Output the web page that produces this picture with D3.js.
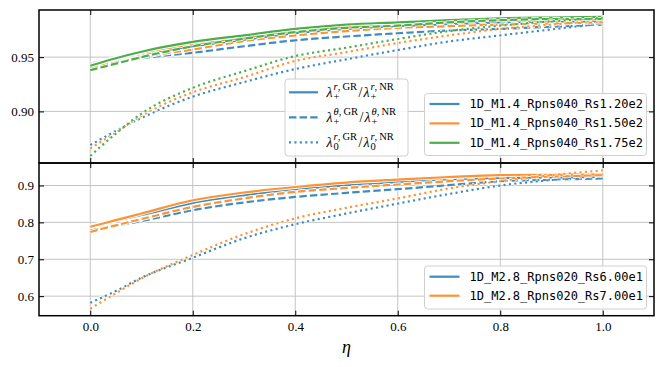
<!DOCTYPE html>
<html><head><meta charset="utf-8">
<script src="https://cdn.jsdelivr.net/npm/d3@7"></script>
<style>body{margin:0;background:#fff} svg{display:block}</style>
</head><body><svg id="c" width="664" height="367"></svg>
<script>
// ---------- data ----------
const eta = [0, 0.05, 0.1, 0.2, 0.3, 0.4, 0.5, 0.6, 0.7, 0.8, 0.9, 1.0];

const topNames = ["1D_M1.4_Rpns040_Rs1.20e2", "1D_M1.4_Rpns040_Rs1.50e2", "1D_M1.4_Rpns040_Rs1.75e2"];
const botNames = ["1D_M2.8_Rpns020_Rs6.00e1", "1D_M2.8_Rpns020_Rs7.00e1"];

// top panel: lambda_+^r ratio (solid)
const top120_rPlus  = [0.944, 0.949, 0.953, 0.960, 0.966, 0.972, 0.976, 0.9787, 0.9805, 0.982, 0.9828, 0.983];
const top150_rPlus  = [0.943, 0.949, 0.954, 0.962, 0.968, 0.9747, 0.978, 0.981, 0.983, 0.9846, 0.985, 0.9855];
const top175_rPlus  = [0.942, 0.949, 0.955, 0.964, 0.970, 0.976, 0.980, 0.982, 0.984, 0.9858, 0.9865, 0.987];
// lambda_+^theta ratio (dashed)
const top120_thPlus = [0.9415, 0.9455, 0.949, 0.954, 0.960, 0.9655, 0.969, 0.972, 0.9745, 0.976, 0.978, 0.980];
const top150_thPlus = [0.940, 0.945, 0.950, 0.957, 0.9648, 0.970, 0.974, 0.977, 0.9785, 0.980, 0.981, 0.982];
const top175_thPlus = [0.938, 0.944, 0.950, 0.960, 0.967, 0.973, 0.977, 0.979, 0.982, 0.984, 0.985, 0.985];
// lambda_0^r ratio (dotted)
const top120_r0     = [0.869, 0.882, 0.894, 0.9136, 0.927, 0.939, 0.948, 0.9565, 0.9644, 0.970, 0.9755, 0.981];
const top150_r0     = [0.866, 0.8806, 0.896, 0.9176, 0.9315, 0.9465, 0.9546, 0.963, 0.970, 0.976, 0.980, 0.984];
const top175_r0     = [0.859, 0.8796, 0.898, 0.9217, 0.937, 0.951, 0.9587, 0.9667, 0.974, 0.979, 0.983, 0.986];

// bottom panel
const bot60_rPlus   = [0.790, 0.805, 0.820, 0.853, 0.874, 0.890, 0.901, 0.910, 0.917, 0.9205, 0.922, 0.923];
const bot70_rPlus   = [0.788, 0.806, 0.824, 0.860, 0.881, 0.896, 0.908, 0.916, 0.923, 0.928, 0.929, 0.930];
const bot60_thPlus  = [0.778, 0.791, 0.8035, 0.833, 0.854, 0.869, 0.880, 0.890, 0.901, 0.9116, 0.916, 0.919];
const bot70_thPlus  = [0.774, 0.792, 0.809, 0.842, 0.865, 0.8827, 0.8935, 0.9027, 0.9116, 0.919, 0.924, 0.928];
const bot60_r0      = [0.582, 0.614, 0.650, 0.704, 0.757, 0.795, 0.824, 0.851, 0.877, 0.900, 0.915, 0.928];
const bot70_r0      = [0.566, 0.608, 0.648, 0.7116, 0.768, 0.811, 0.8395, 0.865, 0.892, 0.9116, 0.928, 0.941];

const xTicks = [0, 0.2, 0.4, 0.6, 0.8, 1.0];
const topYTicks = [0.90, 0.95];
const botYTicks = [0.6, 0.7, 0.8, 0.9];

const colors = ["#1f77b4", "#ff7f0e", "#2ca02c"];
const styles = {solid: null, dashed: "7.4,3.2", dotted: "2.1,3.3"};

// ---------- layout ----------
const svg = d3.select("#c");
const L = 39, R = 654, T1 = 10, B1 = 163, T2 = 163, B2 = 315.7;
const x = d3.scaleLinear([-0.1, 1.1], [L, R]);
const yTop = d3.scaleLinear([0.8525, 0.9934], [B1, T1]);
const yBot = d3.scaleLinear([0.547, 0.961], [B2, T2]);
const serif = "'Liberation Serif', 'DejaVu Serif', serif";
const mono = "'DejaVu Sans Mono', 'Liberation Mono', monospace";

function panel(y, top, bottom, yTicks, yFmt, series) {
  const g = svg.append("g");
  g.append("g").selectAll("line").data(xTicks).join("line")
    .attr("x1", d => x(d)).attr("x2", d => x(d)).attr("y1", top).attr("y2", bottom)
    .attr("stroke", "#c4c4c4").attr("stroke-width", 1);
  g.append("g").selectAll("line").data(yTicks).join("line")
    .attr("y1", d => y(d)).attr("y2", d => y(d)).attr("x1", L).attr("x2", R)
    .attr("stroke", "#c4c4c4").attr("stroke-width", 1);
  const clip = "clip" + Math.round(top);
  svg.append("clipPath").attr("id", clip).append("rect")
    .attr("x", L).attr("y", top).attr("width", R - L).attr("height", bottom - top);
  const lg = g.append("g").attr("clip-path", `url(#${clip})`);
  const line = d3.line().x((d, i) => x(eta[i])).y(d => y(d)).curve(d3.curveMonotoneX);
  series.forEach(s => {
    lg.append("path").attr("d", line(s.v)).attr("fill", "none")
      .attr("stroke", "#fff").attr("stroke-width", 4)
      .attr("stroke-dasharray", styles[s.style]);
    lg.append("path").attr("d", line(s.v)).attr("fill", "none")
      .attr("stroke", colors[s.c]).attr("stroke-opacity", 0.85).attr("stroke-width", 2.2)
      .attr("stroke-dasharray", styles[s.style]);
  });
  return g;
}

function axes(y, top, bottom, yTicks, yFmt, showX) {
  const g = svg.append("g");
  const ax = (gen, tx) => {
    const a = g.append("g").attr("transform", tx).call(gen);
    a.select(".domain").remove();
    a.selectAll(".tick line").attr("stroke", "#000").attr("stroke-width", 1);
    a.selectAll("text").attr("font-family", serif).attr("font-size", 13).attr("fill", "#000");
    return a;
  };
  ax(d3.axisLeft(y).tickValues(yTicks).tickFormat(d3.format(yFmt)).tickSize(-5).tickPadding(5), `translate(${L},0)`);
  ax(d3.axisRight(y).tickValues(yTicks).tickFormat("").tickSize(-5), `translate(${R},0)`);
  ax(d3.axisTop(x).tickValues(xTicks).tickFormat("").tickSize(-5), `translate(0,${top})`);
  ax(d3.axisBottom(x).tickValues(xTicks).tickFormat(showX ? d3.format(".1f") : "").tickSize(-5).tickPadding(6), `translate(0,${bottom})`);
  g.append("rect").attr("x", L).attr("y", top).attr("width", R - L).attr("height", bottom - top)
    .attr("fill", "none").attr("stroke", "#000").attr("stroke-width", 1.5);
}

function legendBox(x0, y0, w, h) {
  svg.append("rect").attr("x", x0).attr("y", y0).attr("width", w).attr("height", h)
    .attr("rx", 3).attr("fill", "#fff").attr("fill-opacity", 0.85)
    .attr("stroke", "#d0d0d0").attr("stroke-width", 1);
}

function nameLegend(x0, y0, w, h, names, firstY, step) {
  legendBox(x0, y0, w, h);
  names.forEach((n, i) => {
    const yy = firstY + i * step;
    svg.append("line").attr("x1", x0 + 5).attr("x2", x0 + 35).attr("y1", yy).attr("y2", yy)
      .attr("stroke", colors[i]).attr("stroke-opacity", 0.85).attr("stroke-width", 2.2);
    svg.append("text").attr("x", x0 + 45).attr("y", yy + 4).attr("font-family", mono)
      .attr("font-size", 12).attr("fill", "#000").text(n);
  });
}

function mathLabel(x0, base, supVar, subChar) {
  let cx = x0;
  ["GR", "NR"].forEach((h, k) => {
    const lam = svg.append("text").attr("x", cx).attr("y", base).attr("font-family", serif)
      .attr("font-size", 14).attr("font-style", "italic").text("λ");
    cx += lam.node().getComputedTextLength() + 1;
    const sup = svg.append("text").attr("x", cx).attr("y", base - 6.5).attr("font-family", serif).attr("font-size", 10.5);
    sup.append("tspan").attr("font-style", "italic").text(supVar);
    sup.append("tspan").text(",\u2009" + h);
    const sub = svg.append("text").attr("x", cx).attr("y", base + 3.5).attr("font-family", serif)
      .attr("font-size", 10.5).text(subChar);
    cx += Math.max(sup.node().getComputedTextLength(), sub.node().getComputedTextLength()) + 1.5;
    if (k === 0) {
      const sl = svg.append("text").attr("x", cx).attr("y", base).attr("font-family", serif)
        .attr("font-size", 14).text("/");
      cx += sl.node().getComputedTextLength() + 1;
    }
  });
}

// ---------- draw ----------
panel(yTop, T1, B1, topYTicks, ".2f", [
  {v: top120_rPlus, c: 0, style: "solid"}, {v: top120_thPlus, c: 0, style: "dashed"}, {v: top120_r0, c: 0, style: "dotted"},
  {v: top150_rPlus, c: 1, style: "solid"}, {v: top150_thPlus, c: 1, style: "dashed"}, {v: top150_r0, c: 1, style: "dotted"},
  {v: top175_rPlus, c: 2, style: "solid"}, {v: top175_thPlus, c: 2, style: "dashed"}, {v: top175_r0, c: 2, style: "dotted"}
]);
panel(yBot, T2, B2, botYTicks, ".1f", [
  {v: bot60_rPlus, c: 0, style: "solid"}, {v: bot60_thPlus, c: 0, style: "dashed"}, {v: bot60_r0, c: 0, style: "dotted"},
  {v: bot70_rPlus, c: 1, style: "solid"}, {v: bot70_thPlus, c: 1, style: "dashed"}, {v: bot70_r0, c: 1, style: "dotted"}
]);

legendBox(285, 79, 123, 77);
[["solid", 92.3, "r", "+"], ["dashed", 117.3, "θ", "+"], ["dotted", 142.3, "r", "0"]].forEach(([st, yy, v, s]) => {
  svg.append("line").attr("x1", 289).attr("x2", 318).attr("y1", yy).attr("y2", yy)
    .attr("stroke", colors[0]).attr("stroke-opacity", 0.85).attr("stroke-width", 2.2)
    .attr("stroke-dasharray", styles[st]);
  mathLabel(326.5, yy + 4.5, v, s);
});

nameLegend(424.5, 93.5, 222, 62, topNames, 104, 19.4);
nameLegend(424.5, 266, 222, 43, botNames, 276.7, 19);

axes(yTop, T1, B1, topYTicks, ".2f", false);
axes(yBot, T2, B2, botYTicks, ".1f", true);

svg.append("text").attr("x", (L + R) / 2).attr("y", 353).attr("text-anchor", "middle")
  .attr("font-family", serif).attr("font-size", 18).attr("font-style", "italic").text("η");
</script>
</body></html>
